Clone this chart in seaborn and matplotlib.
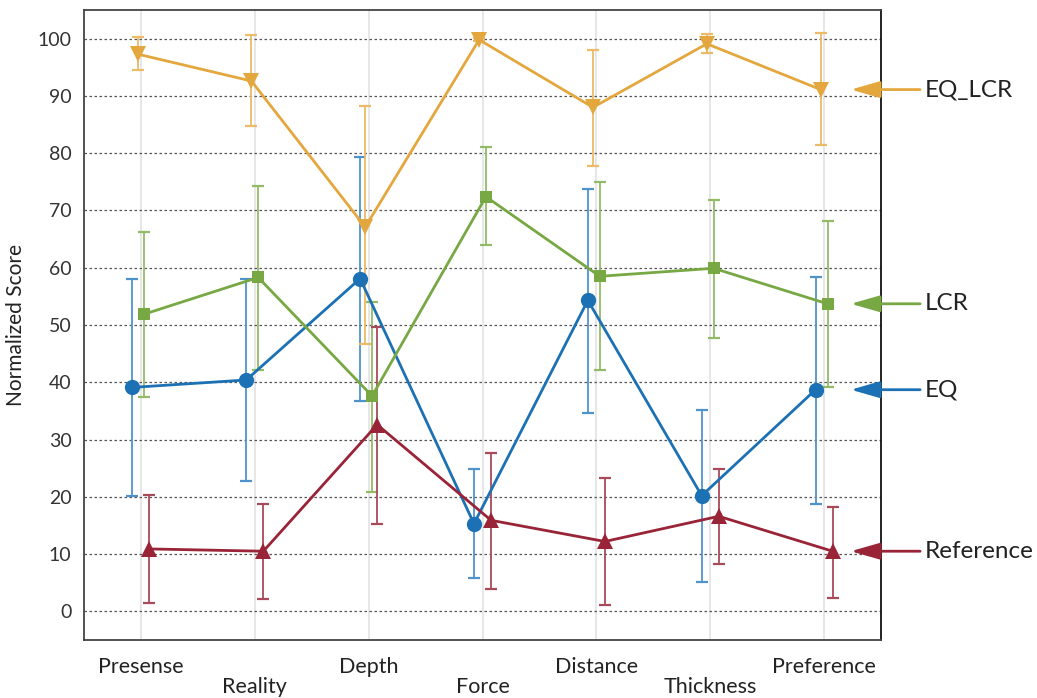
import numpy as np
import pandas as pd
import matplotlib
matplotlib.use("Agg")
import matplotlib.pyplot as plt
import seaborn as sns

categories = ["Presense", "Reality", "Depth", "Force", "Distance", "Thickness", "Preference"]
series_names = ["EQ", "EQ_LCR", "LCR", "Reference"]

eq_mean = [39.1, 40.4, 58.1, 15.3, 54.3, 20.2, 38.7]
eq_low = [20.1, 22.8, 36.8, 5.9, 34.6, 5.1, 18.8]
eq_high = [58.1, 58.1, 79.4, 24.8, 73.8, 35.1, 58.3]

eqlcr_mean = [97.3, 92.6, 67.1, 99.8, 88.0, 99.1, 91.1]
eqlcr_low = [94.5, 84.8, 46.6, 99.5, 77.8, 97.5, 81.5]
eqlcr_high = [100.3, 100.7, 88.3, 100.1, 98.1, 100.8, 101.0]

lcr_mean = [51.9, 58.3, 37.6, 72.4, 58.5, 59.9, 53.7]
lcr_low = [37.5, 42.2, 20.9, 64.0, 42.1, 47.8, 39.1]
lcr_high = [66.2, 74.3, 54.1, 81.0, 74.9, 71.9, 68.2]

ref_mean = [10.9, 10.5, 32.6, 15.9, 12.2, 16.6, 10.5]
ref_low = [1.4, 2.1, 15.3, 3.9, 1.1, 8.2, 2.3]
ref_high = [20.3, 18.7, 49.7, 27.7, 23.2, 24.8, 18.2]

colors = {"EQ": "#1c71b4", "EQ_LCR": "#e4a73d", "LCR": "#77a843", "Reference": "#992337"}
err_colors = {"EQ": "#4f93cc", "EQ_LCR": "#ebbb68", "LCR": "#93bb67", "Reference": "#a94a5a"}
markers = {"EQ": "o", "EQ_LCR": "v", "LCR": "s", "Reference": "^"}
msize = {"EQ": 11, "EQ_LCR": 11.5, "LCR": 8.5, "Reference": 11.5}
offsets = {"EQ": -0.075, "EQ_LCR": -0.03, "LCR": 0.03, "Reference": 0.075}

data = {
    "EQ": (eq_mean, eq_low, eq_high),
    "EQ_LCR": (eqlcr_mean, eqlcr_low, eqlcr_high),
    "LCR": (lcr_mean, lcr_low, lcr_high),
    "Reference": (ref_mean, ref_low, ref_high),
}

rows = []
for name in series_names:
    m, lo, hi = data[name]
    for i, cat in enumerate(categories):
        rows.append({"series": name, "cat": cat, "pos": i + offsets[name],
                     "score": m[i], "low": lo[i], "high": hi[i]})
df = pd.DataFrame(rows)

sns.set_style("white")
plt.rcParams["font.family"] = ["Lato", "DejaVu Sans"]

fig, ax = plt.subplots(figsize=(10.37, 6.98), dpi=100)
fig.subplots_adjust(left=0.081, right=0.8496, top=0.9857, bottom=0.0831)

# grid
for i in range(len(categories)):
    ax.axvline(i, color="#e3e3e3", lw=1.2, zorder=0)
for v in range(0, 101, 10):
    ax.axhline(v, color="#555555", lw=0.9, ls=(0, (2, 2)), zorder=0)

# error bars
for name in series_names:
    sub = df[df["series"] == name]
    yerr = [sub["score"] - sub["low"], sub["high"] - sub["score"]]
    ax.errorbar(sub["pos"], sub["score"], yerr=yerr, fmt="none",
                ecolor=err_colors[name], elinewidth=1.3, capsize=4, capthick=1.6, zorder=2)

# lines + markers
for name in series_names:
    sub = df[df["series"] == name]
    sns.lineplot(data=sub, x="pos", y="score", color=colors[name], lw=2, marker=markers[name],
                 markersize=msize[name], markeredgewidth=0, ax=ax, zorder=3, sort=False)

ax.set_xlim(-0.5, len(categories) - 0.5)
ax.set_ylim(-5, 105)
ax.set_yticks(range(0, 101, 10))
ax.set_xticks(range(len(categories)))
ax.set_xticklabels([c if i % 2 == 0 else "\n" + c for i, c in enumerate(categories)],
                   fontsize=15.5, color="#222222", linespacing=1.05)
ax.tick_params(axis="x", length=0, pad=12)
ax.tick_params(axis="y", direction="in", length=4, labelsize=14, colors="#333333", pad=9)
ax.set_xlabel("")
ax.set_ylabel("Normalized Score", fontsize=15, color="#222222", labelpad=8)

for s in ["top", "left", "bottom"]:
    ax.spines[s].set_color("#444444")
    ax.spines[s].set_linewidth(1.3)
ax.spines["right"].set_color("#111111")
ax.spines["right"].set_linewidth(1.3)

# arrow legend at the last value of each series
for name in series_names:
    last = data[name][0][-1]
    ax.annotate("", xy=(0.962, last), xycoords=("axes fraction", "data"),
                xytext=(1.049, last), textcoords=("axes fraction", "data"),
                arrowprops=dict(arrowstyle="-|>,head_length=1.75,head_width=0.5",
                                mutation_scale=10, color=colors[name], lw=2,
                                shrinkA=0, shrinkB=0),
                annotation_clip=False, zorder=5)
    ax.text(1.055, last, name, transform=ax.get_yaxis_transform(), fontsize=17.5,
            color="#222222", va="center", ha="left")

fig.savefig("out.png", dpi=100)
